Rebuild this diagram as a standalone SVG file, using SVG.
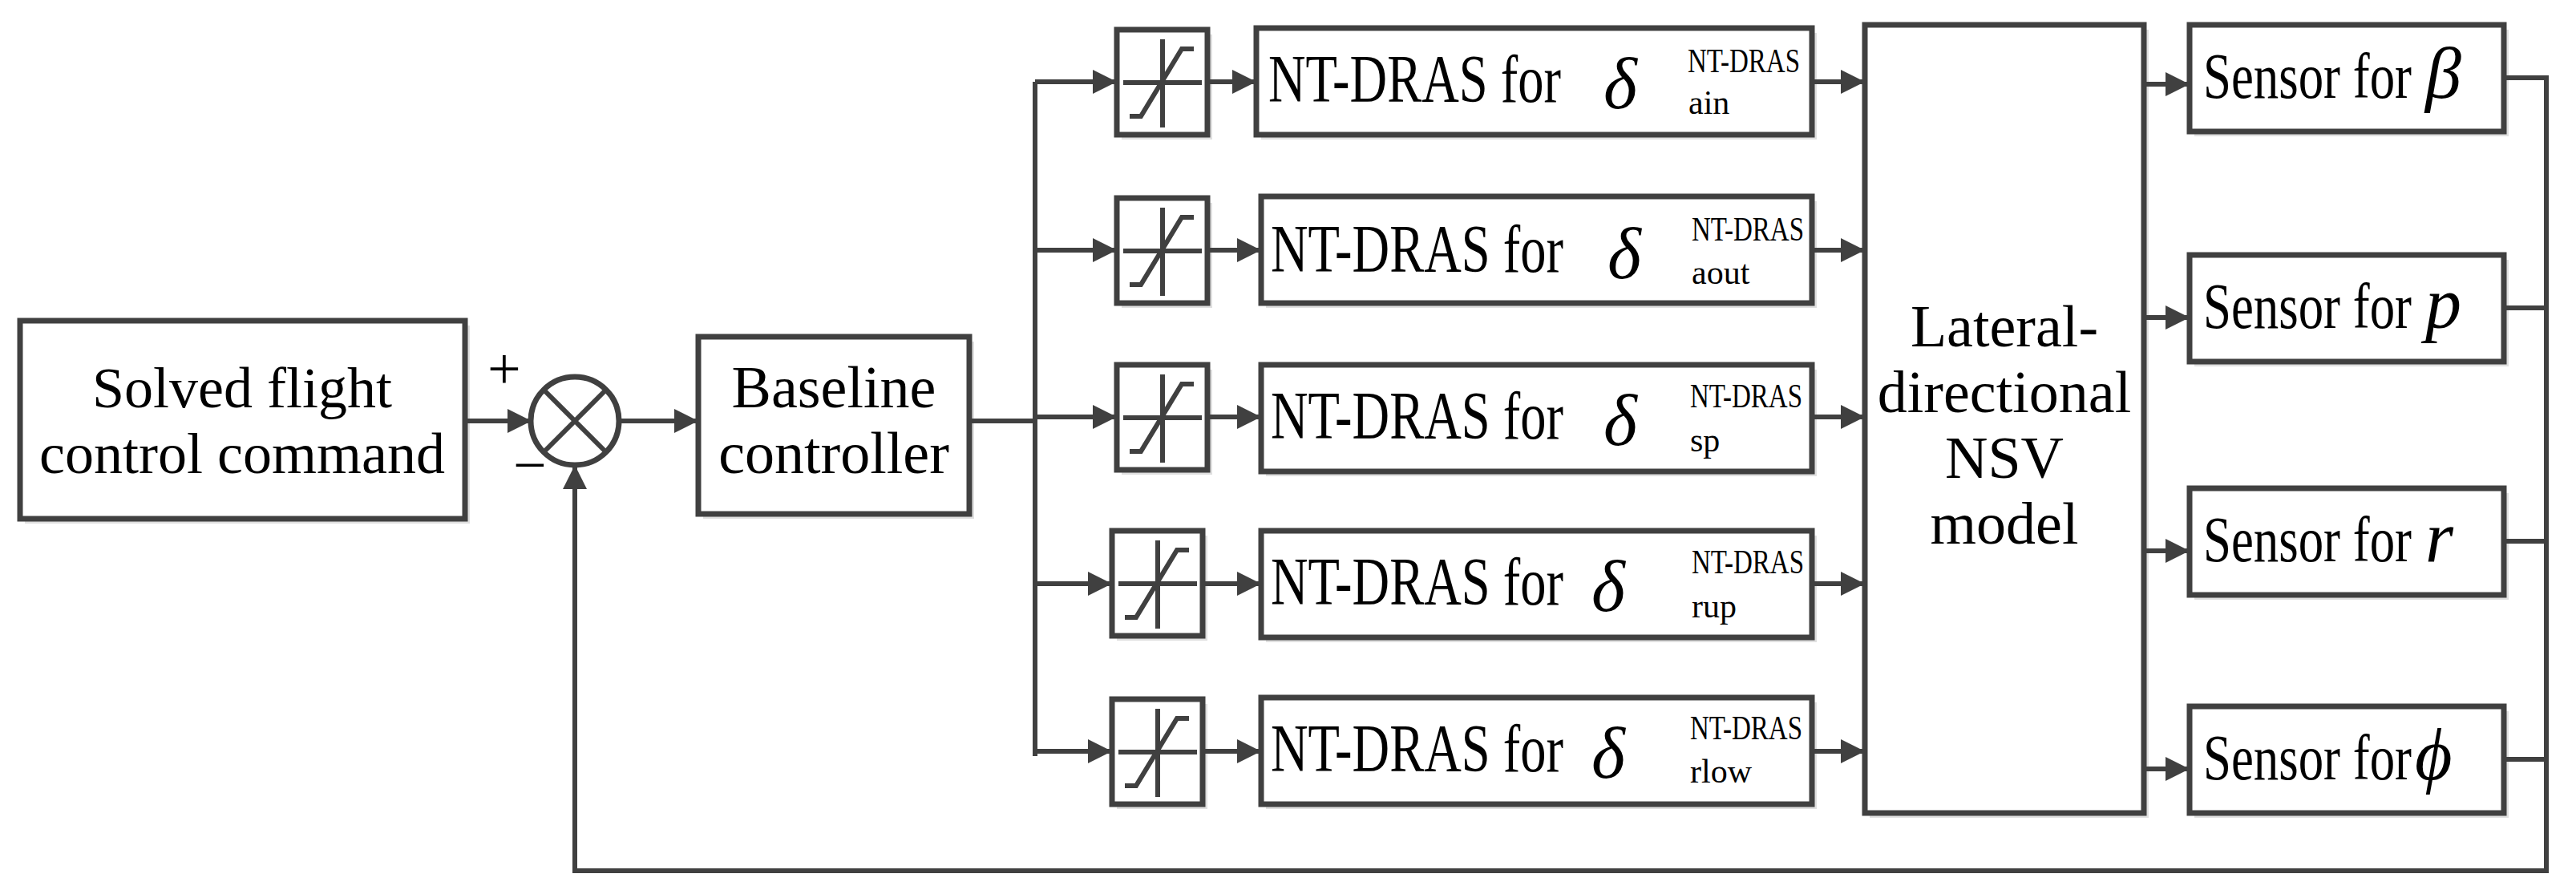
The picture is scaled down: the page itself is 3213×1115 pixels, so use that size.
<svg xmlns="http://www.w3.org/2000/svg" width="3213" height="1115" viewBox="0 0 3213 1115" font-family="'Liberation Serif', 'Times New Roman', serif">
<defs>
<style>
.b{fill:#fff;stroke:#404040;stroke-width:7}
.s{fill:#e0e0e0}
.l{fill:none;stroke:#404040;stroke-width:6}
.t{fill:#000}
</style>
<marker id="a" viewBox="0 0 10 10" refX="9" refY="5" markerWidth="36" markerHeight="30" markerUnits="userSpaceOnUse" orient="auto"><path d="M0,0L10,5L0,10z" fill="#404040"/></marker>
<g id="sat"><rect class="s" x="6" y="6" width="113" height="131"/><rect class="b" x="0" y="0" width="113" height="131"/><path class="l" d="M57,12V122M8,66H106M16,108H30L81,24H96"/></g>
</defs>
<rect width="3213" height="1115" fill="#fff"/>
<g id="solved"><rect class="s" x="31" y="406" width="555" height="247"/><rect class="b" x="25" y="400" width="555" height="247"/><text class="t" font-size="72" text-anchor="middle" x="302" y="508">Solved flight</text><text class="t" font-size="72" text-anchor="middle" x="302" y="590">control command</text></g>
<g id="sum"><circle cx="717" cy="525" r="55" class="b"/><path class="l" d="M678,486L756,564M756,486L678,564"/><text class="t" font-size="74" x="608" y="485">+</text><text class="t" font-size="74" x="640" y="605">−</text></g>
<g id="baseline"><rect class="s" x="877" y="426" width="338" height="221"/><rect class="b" x="871" y="420" width="338" height="221"/><text class="t" font-size="74" text-anchor="middle" x="1040" y="508">Baseline</text><text class="t" font-size="74" text-anchor="middle" x="1040" y="590">controller</text></g>
<use href="#sat" x="1393" y="37"/><use href="#sat" x="1393" y="247"/><use href="#sat" x="1393" y="455"/><use href="#sat" x="1387" y="662"/><use href="#sat" x="1387" y="872"/>
<g id="nt1"><rect class="s" x="1573" y="41" width="693" height="133"/><rect class="b" x="1567" y="35" width="693" height="133"/><text class="t" font-size="84" x="1582" y="127" textLength="365" lengthAdjust="spacingAndGlyphs">NT-DRAS for</text><text class="t" font-size="90" font-style="italic" x="2000" y="135">δ</text><text class="t" font-size="42" x="2105" y="90" textLength="140" lengthAdjust="spacingAndGlyphs">NT-DRAS</text><text class="t" font-size="42" x="2106" y="142">ain</text></g>
<g id="nt2"><rect class="s" x="1579" y="251" width="687" height="133"/><rect class="b" x="1573" y="245" width="687" height="133"/><text class="t" font-size="84" x="1585" y="339" textLength="365" lengthAdjust="spacingAndGlyphs">NT-DRAS for</text><text class="t" font-size="90" font-style="italic" x="2005" y="347">δ</text><text class="t" font-size="42" x="2110" y="300" textLength="140" lengthAdjust="spacingAndGlyphs">NT-DRAS</text><text class="t" font-size="42" x="2110" y="354">aout</text></g>
<g id="nt3"><rect class="s" x="1579" y="461" width="687" height="133"/><rect class="b" x="1573" y="455" width="687" height="133"/><text class="t" font-size="84" x="1585" y="547" textLength="365" lengthAdjust="spacingAndGlyphs">NT-DRAS for</text><text class="t" font-size="90" font-style="italic" x="2000" y="555">δ</text><text class="t" font-size="42" x="2108" y="508" textLength="140" lengthAdjust="spacingAndGlyphs">NT-DRAS</text><text class="t" font-size="42" x="2108" y="563">sp</text></g>
<g id="nt4"><rect class="s" x="1579" y="668" width="687" height="133"/><rect class="b" x="1573" y="662" width="687" height="133"/><text class="t" font-size="84" x="1585" y="754" textLength="365" lengthAdjust="spacingAndGlyphs">NT-DRAS for</text><text class="t" font-size="90" font-style="italic" x="1985" y="762">δ</text><text class="t" font-size="42" x="2110" y="715" textLength="140" lengthAdjust="spacingAndGlyphs">NT-DRAS</text><text class="t" font-size="42" x="2110" y="770">rup</text></g>
<g id="nt5"><rect class="s" x="1579" y="876" width="687" height="133"/><rect class="b" x="1573" y="870" width="687" height="133"/><text class="t" font-size="84" x="1585" y="962" textLength="365" lengthAdjust="spacingAndGlyphs">NT-DRAS for</text><text class="t" font-size="90" font-style="italic" x="1985" y="970">δ</text><text class="t" font-size="42" x="2108" y="922" textLength="140" lengthAdjust="spacingAndGlyphs">NT-DRAS</text><text class="t" font-size="42" x="2108" y="976">rlow</text></g>
<g id="lateral"><rect class="s" x="2332" y="37" width="348" height="983"/><rect class="b" x="2326" y="31" width="348" height="983"/><g class="t" font-size="74" text-anchor="middle"><text x="2500" y="432">Lateral-</text><text x="2500" y="514">directional</text><text x="2500" y="596">NSV</text><text x="2500" y="678">model</text></g></g>
<g id="sen1"><rect class="s" x="2737" y="37" width="392" height="133"/><rect class="b" x="2731" y="31" width="392" height="133"/><text class="t" font-size="80" x="2748" y="122" textLength="260" lengthAdjust="spacingAndGlyphs">Sensor for</text><text class="t" font-size="90" font-style="italic" x="3025" y="122">β</text></g>
<g id="sen2"><rect class="s" x="2737" y="324" width="392" height="133"/><rect class="b" x="2731" y="318" width="392" height="133"/><text class="t" font-size="80" x="2748" y="409" textLength="260" lengthAdjust="spacingAndGlyphs">Sensor for</text><text class="t" font-size="90" font-style="italic" x="3025" y="409">p</text></g>
<g id="sen3"><rect class="s" x="2737" y="615" width="392" height="133"/><rect class="b" x="2731" y="609" width="392" height="133"/><text class="t" font-size="80" x="2748" y="700" textLength="260" lengthAdjust="spacingAndGlyphs">Sensor for</text><text class="t" font-size="90" font-style="italic" x="3025" y="700">r</text></g>
<g id="sen4"><rect class="s" x="2737" y="887" width="392" height="133"/><rect class="b" x="2731" y="881" width="392" height="133"/><text class="t" font-size="80" x="2748" y="972" textLength="260" lengthAdjust="spacingAndGlyphs">Sensor for</text><text class="t" font-size="90" font-style="italic" x="3012" y="972">ϕ</text></g>
<g id="connectors" class="l">
<path d="M580,525H660" marker-end="url(#a)"/>
<path d="M772,525H868" marker-end="url(#a)"/>
<path d="M1209,525H1291M1291,102V943"/>
<path d="M1291,102H1390" marker-end="url(#a)"/>
<path d="M1291,312H1390" marker-end="url(#a)"/>
<path d="M1291,520H1390" marker-end="url(#a)"/>
<path d="M1291,728H1384" marker-end="url(#a)"/>
<path d="M1291,937H1384" marker-end="url(#a)"/>
<path d="M1506,102H1564" marker-end="url(#a)"/>
<path d="M1506,312H1570" marker-end="url(#a)"/>
<path d="M1506,520H1570" marker-end="url(#a)"/>
<path d="M1500,728H1570" marker-end="url(#a)"/>
<path d="M1500,937H1570" marker-end="url(#a)"/>
<path d="M2260,102H2323" marker-end="url(#a)"/>
<path d="M2260,312H2323" marker-end="url(#a)"/>
<path d="M2260,520H2323" marker-end="url(#a)"/>
<path d="M2260,728H2323" marker-end="url(#a)"/>
<path d="M2260,937H2323" marker-end="url(#a)"/>
<path d="M2674,105H2728" marker-end="url(#a)"/>
<path d="M2674,396H2728" marker-end="url(#a)"/>
<path d="M2674,687H2728" marker-end="url(#a)"/>
<path d="M2674,959H2728" marker-end="url(#a)"/>
<path d="M3123,97H3176V1086H717V583" marker-end="url(#a)"/>
<path d="M3123,384H3176M3123,675H3176M3123,947H3176"/>
</g>
</svg>
